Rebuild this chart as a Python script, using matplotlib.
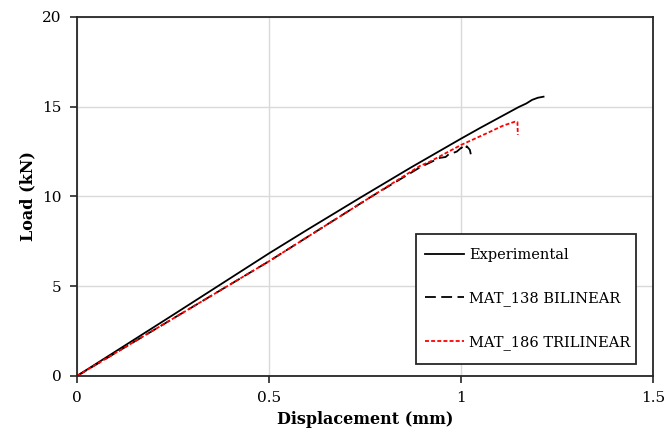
import matplotlib
matplotlib.use('Agg')
import matplotlib.pyplot as plt
from matplotlib.patches import Rectangle

# experimental curve
exp_x = [0, 0.05, 0.25, 0.5, 0.6, 0.739, 0.87, 1.0, 1.05, 1.1, 1.15, 1.17, 1.185, 1.2, 1.215]
exp_y = [0, 0.68, 3.4, 6.83, 8.15, 9.95, 11.62, 13.22, 13.82, 14.4, 14.98, 15.18, 15.38, 15.5, 15.56]

# MAT_138 bilinear
bil_x = [0, 0.1, 0.5, 0.767, 0.893, 0.93, 0.945, 0.96, 0.968, 0.976, 0.989, 1.002, 1.010, 1.015, 1.023, 1.026]
bil_y = [0, 1.28, 6.39, 10.0, 11.62, 12.0, 12.15, 12.2, 12.35, 12.4, 12.5, 12.74, 12.6, 12.8, 12.6, 12.31]

# MAT_186 trilinear
tri_x = [0, 0.1, 0.5, 0.767, 0.893, 0.919, 1.0, 1.067, 1.11, 1.141, 1.147, 1.148]
tri_y = [0, 1.28, 6.39, 10.0, 11.7, 11.94, 12.87, 13.52, 13.95, 14.17, 14.15, 13.43]

plt.rcParams['font.family'] = ['DejaVu Serif']

fig = plt.figure(figsize=(6.67, 4.4), dpi=100)
ax = fig.add_subplot(111)
fig.subplots_adjust(left=0.1154, right=0.979, top=0.9614, bottom=0.1455)

ax.plot(exp_x, exp_y, color='black', lw=1.3, label='Experimental')
ax.plot(bil_x, bil_y, color='black', lw=1.3, dashes=(6, 3), label='MAT_138 BILINEAR')
ax.plot(tri_x, tri_y, color='red', lw=1.3, dashes=(2.2, 1.2), label='MAT_186 TRILINEAR')

ax.set_xlim(0, 1.5)
ax.set_ylim(0, 20)
ax.set_xticks([0, 0.5, 1, 1.5])
ax.set_xticklabels(['0', '0.5', '1', '1.5'])
ax.set_yticks([0, 5, 10, 15, 20])
ax.grid(True, color='#d9d9d9', lw=1)
ax.set_axisbelow(True)
for s in ax.spines.values():
    s.set_color('#262626')
    s.set_linewidth(1.3)
ax.tick_params(direction='out', length=5, width=1.2, color='#262626', labelsize=11, pad=6)

ax.set_xlabel('Displacement (mm)', fontsize=11.5, fontweight='bold')
ax.set_ylabel('Load (kN)', fontsize=11.5, fontweight='bold')

# legend box drawn separately so it can be taller than the entries need
box = (0.589, 0.033, 0.382, 0.362)
ax.add_patch(Rectangle(box[:2], box[2], box[3], transform=ax.transAxes, facecolor='white',
                       edgecolor='#262626', lw=1.3, zorder=4))
leg = ax.legend(loc='center', bbox_to_anchor=box, mode='expand',
                fontsize=10.5, frameon=False, labelspacing=2.0, borderpad=0.6,
                handlelength=2.7, handletextpad=0.3, borderaxespad=0)
leg.set_zorder(5)

fig.savefig('out.png', dpi=100)
